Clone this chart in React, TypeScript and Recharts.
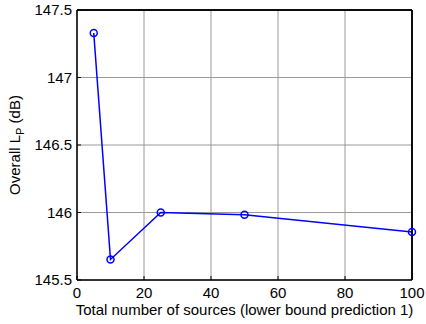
import { CartesianGrid, Line, LineChart, ReferenceLine, XAxis, YAxis } from "recharts";

const sources = [5, 10, 25, 50, 100];
const overallLp = [147.33, 145.652, 146.0, 145.983, 145.855];
const xTicks = [0, 20, 40, 60, 80, 100];
const yTicks = [145.5, 146, 146.5, 147, 147.5];

const data = sources.map((n, i) => ({ n, lp: overallLp[i] }));

const font = "'Liberation Sans', Arial, sans-serif";
const fs = 15;

function YLabel(props: any) {
  const vb = props.viewBox || {};
  const cy = (vb.y ?? 10) + (vb.height ?? 270) / 2;
  return (
    <text
      x={20}
      y={cy}
      transform={`rotate(-90, 20, ${cy})`}
      textAnchor="middle"
      fontSize={fs}
      fontFamily={font}
      fill="#000"
    >
      Overall L
      <tspan fontSize={11} dy={4}>P</tspan>
      <tspan dy={-4}> (dB)</tspan>
    </text>
  );
}

function XLabel(props: any) {
  const vb = props.viewBox || {};
  const cx = (vb.x ?? 77) + (vb.width ?? 335) / 2;
  return (
    <text x={cx} y={315} textAnchor="middle" fontSize={fs} fontFamily={font} fill="#000">
      Total number of sources (lower bound prediction 1)
    </text>
  );
}

export default function App() {
  return (
    <div style={{ position: "absolute", left: 0, top: 0, width: 426, height: 324, background: "#fff" }}>
      <LineChart width={426} height={324} data={data} margin={{ top: 9, right: 13, left: 0, bottom: 0 }}>
        <CartesianGrid stroke="#9a9a9a" strokeWidth={1} />
        <XAxis
          dataKey="n"
          type="number"
          domain={[0, 100]}
          ticks={xTicks}
          height={44}
          tickSize={-4}
          tickMargin={11}
          axisLine={{ stroke: "#000", strokeWidth: 1.5 }}
          tickLine={{ stroke: "#000" }}
          tick={{ fill: "#000", fontSize: fs, fontFamily: font }}
          interval={0}
          label={<XLabel />}
        />
        <XAxis
          xAxisId="top"
          orientation="top"
          dataKey="n"
          type="number"
          domain={[0, 100]}
          ticks={xTicks}
          height={1}
          tickSize={-4}
          tick={false}
          axisLine={{ stroke: "#000", strokeWidth: 1.5 }}
          tickLine={{ stroke: "#000" }}
        />
        <YAxis
          type="number"
          domain={[145.5, 147.5]}
          ticks={yTicks}
          width={77}
          tickSize={-4}
          tickMargin={9}
          interval={0}
          axisLine={{ stroke: "#000", strokeWidth: 1.5 }}
          tickLine={{ stroke: "#000" }}
          tick={{ fill: "#000", fontSize: fs, fontFamily: font }}
          label={<YLabel />}
        />
        <YAxis
          yAxisId="right"
          orientation="right"
          type="number"
          domain={[145.5, 147.5]}
          ticks={yTicks}
          width={1}
          tickSize={-4}
          tick={false}
          axisLine={{ stroke: "#000", strokeWidth: 1.5 }}
          tickLine={{ stroke: "#000" }}
        />
        <ReferenceLine y={147.5} stroke="#000" strokeWidth={1.5} />
        <ReferenceLine x={100} stroke="#000" strokeWidth={1.5} />
        <Line
          dataKey="lp"
          stroke="#0000ff"
          strokeWidth={1.5}
          dot={{ r: 3.5, stroke: "#0000ff", strokeWidth: 1.5, fill: "none" }}
          isAnimationActive={false}
        />
      </LineChart>
    </div>
  );
}
